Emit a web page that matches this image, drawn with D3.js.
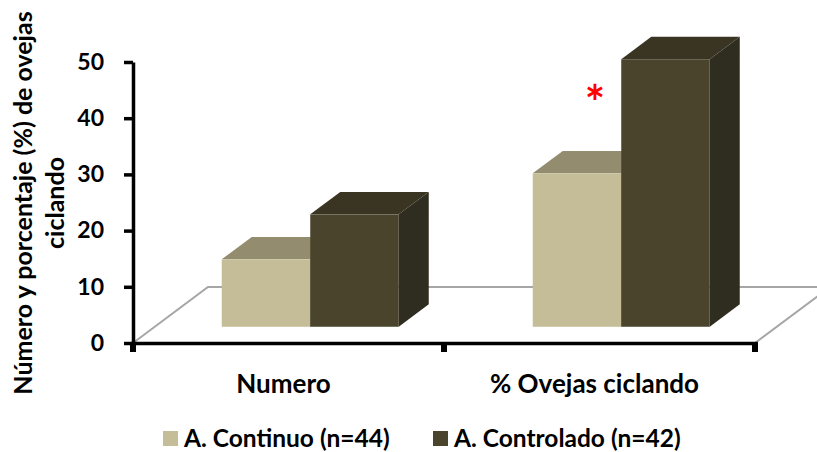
<!DOCTYPE html>
<html>
<head>
<meta charset="utf-8">
<script src="https://cdn.jsdelivr.net/npm/d3@7"></script>
<style>
  html, body { margin: 0; padding: 0; background: #ffffff; }
  svg { display: block; font-family: Lato, "Noto Sans", sans-serif; }
</style>
</head>
<body>
<script>
// Ewes cycling: count and percentage per grazing system
const categories = ["Numero", "% Ovejas ciclando"];
const seriesNames = ["A. Continuo (n=44)", "A. Controlado (n=42)"];
const continuo = [12, 27.3];
const controlado = [20, 47.6];
const yTicks = [0, 10, 20, 30, 40, 50];
const significance = ["", "*"];

const seriesValues = [continuo, controlado];
const palette = [
  { front: "#C4BD97", top: "#948C6F", side: "#7F785D" },
  { front: "#4A442D", top: "#3A3422", side: "#2F2D1F" }
];

const W = 817, H = 452;
const svg = d3.select("body").append("svg").attr("width", W).attr("height", H);

// scales (front plane of the floor)
const y = d3.scaleLinear().domain([0, 50]).range([343, 62]);
const x0 = d3.scaleBand().domain(categories).range([133, 755]).paddingInner(0).paddingOuter(0);
const x1 = d3.scaleBand().domain(seriesNames).range([0, x0.bandwidth()])
  .paddingInner(0).paddingOuter(0.757);

// oblique projection of the floor depth
const depth = { dx: 75, dy: -56 };
const barFront = 0.29, barBack = 0.69;
const ox = depth.dx * barFront, oy = depth.dy * barFront;
const ddx = depth.dx * (barBack - barFront), ddy = depth.dy * (barBack - barFront);

// floor outline
const x0End = x0.range()[1], x0Start = x0.range()[0];
svg.append("path")
  .attr("d", d3.line()([
    [x0Start, y(0)],
    [x0Start + depth.dx, y(0) + depth.dy],
    [x0End + depth.dx, y(0) + depth.dy],
    [x0End, y(0)]
  ]))
  .attr("fill", "none")
  .attr("stroke", "#A6A6A6")
  .attr("stroke-width", 2);

// bars as prisms
const bars = [];
categories.forEach((c, i) => {
  seriesNames.forEach((s, j) => {
    bars.push({ cat: c, series: s, j, value: seriesValues[j][i] });
  });
});

const g = svg.append("g");
bars.forEach(b => {
  const w = x1.bandwidth();
  const fx = x0(b.cat) + x1(b.series) + ox;
  const base = y(0) + oy;
  const top = base - (y(0) - y(b.value));
  const col = palette[b.j];
  const bg = g.append("g");
  bg.append("polygon")
    .attr("points", [[fx + w, base], [fx + w + ddx, base + ddy], [fx + w + ddx, top + ddy], [fx + w, top]].join(" "))
    .attr("fill", col.side);
  bg.append("polygon")
    .attr("points", [[fx, top], [fx + w, top], [fx + w + ddx, top + ddy], [fx + ddx, top + ddy]].join(" "))
    .attr("fill", col.top);
  bg.append("rect")
    .attr("x", fx).attr("y", top)
    .attr("width", w).attr("height", base - top)
    .attr("fill", col.front);
});

// significance marker
categories.forEach((c, i) => {
  if (!significance[i]) return;
  const bx = x0(c) + x1(seriesNames[0]) + ox + x1.bandwidth() * 0.5 + ddx * 0.5 + 3;
  svg.append("text")
    .attr("x", bx)
    .attr("y", y(39.6))
    .attr("text-anchor", "middle")
    .attr("fill", "#FF0000")
    .attr("font-size", 48)
    .attr("font-weight", 700)
    .text(significance[i]);
});

// y axis
const yAxis = svg.append("g")
  .attr("transform", `translate(${x0Start},0)`)
  .call(d3.axisLeft(y).tickValues(yTicks).tickSize(9).tickSizeOuter(0).tickPadding(20).tickFormat(d3.format("d")));
yAxis.select(".domain").attr("stroke", "#000").attr("stroke-width", 3.5);
yAxis.selectAll(".tick line").attr("stroke", "#000").attr("stroke-width", 3.5);
yAxis.selectAll(".tick text")
  .attr("fill", "#000")
  .attr("font-family", "Lato, sans-serif")
  .attr("font-size", 23)
  .attr("font-weight", 700);

// x axis line with category boundary ticks
svg.append("line")
  .attr("x1", x0Start - 1.5).attr("x2", x0End + 3)
  .attr("y1", y(0) + 0.5).attr("y2", y(0) + 0.5)
  .attr("stroke", "#000").attr("stroke-width", 3.5);
const bounds = categories.map(c => x0(c)).concat([x0End]);
svg.selectAll("rect.xtick").data(bounds).join("rect")
  .attr("class", "xtick")
  .attr("x", d => d - 3).attr("y", y(0))
  .attr("width", 6).attr("height", 9)
  .attr("fill", "#000");

svg.selectAll("text.cat").data(categories).join("text")
  .attr("class", "cat")
  .attr("x", d => x0(d) + x0.bandwidth() / 2 - 5)
  .attr("y", 393)
  .attr("text-anchor", "middle")
  .attr("font-size", 26)
  .attr("font-weight", 700)
  .attr("fill", "#000")
  .text(d => d);

// y axis title
const title = svg.append("text")
  .attr("transform", "translate(0,203) rotate(-90)")
  .attr("text-anchor", "middle")
  .attr("font-size", 25)
  .attr("font-weight", 700)
  .attr("fill", "#000");
title.append("tspan").attr("x", 0).attr("y", 32).text("Número y porcentaje (%) de ovejas");
title.append("tspan").attr("x", 0).attr("y", 64).text("ciclando");

// legend
const legendX = [163, 433];
const leg = svg.selectAll("g.leg").data(seriesNames).join("g")
  .attr("class", "leg")
  .attr("transform", (d, i) => `translate(${legendX[i]},431)`);
leg.append("rect").attr("width", 15).attr("height", 15).attr("fill", (d, i) => palette[i].front);
leg.append("text")
  .attr("x", 21).attr("y", 15.5)
  .attr("font-size", 24.5)
  .attr("font-weight", 700)
  .attr("fill", "#000")
  .text(d => d);
</script>
</body>
</html>
